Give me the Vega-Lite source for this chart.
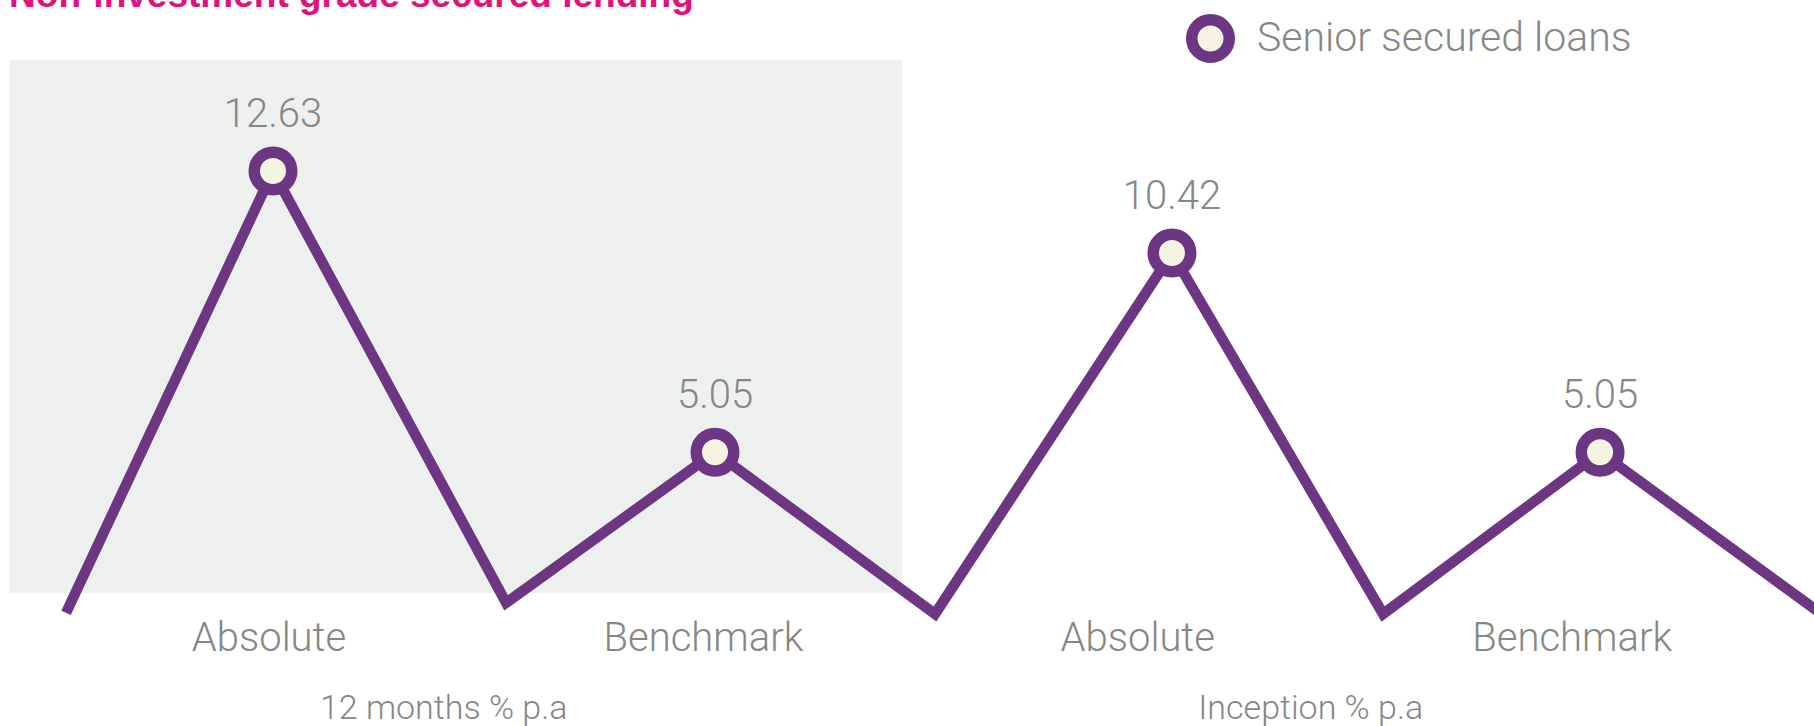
{
  "$schema": "https://vega.github.io/schema/vega-lite/v6.json",
  "width": 1814,
  "height": 533,
  "autosize": {"type": "none"},
  "padding": {"left": 0, "top": 60, "right": 0, "bottom": 133},
  "background": "#ffffff",
  "config": {"view": {"stroke": null}},
  "layer": [
    {
      "data": {"values": [
        {"group": "12 months % p.a", "start": -0.194, "end": 3.917, "top": 15.623, "bottom": 1.256}
      ]},
      "mark": {"type": "rect", "color": "#eef0ef"},
      "encoding": {
        "x": {
          "field": "start",
          "type": "quantitative",
          "scale": {"domain": [-0.236, 8.116], "nice": false, "zero": false},
          "axis": {
            "values": [1, 3, 5, 7],
            "labelExpr": "(datum.value == 1 || datum.value == 5) ? 'Absolute' : 'Benchmark'",
            "domain": false,
            "ticks": false,
            "grid": false,
            "title": null,
            "labelFont": "Roboto",
            "labelFontWeight": 300,
            "labelFontSize": 40,
            "labelColor": "#858786",
            "labelPadding": 57,
            "labelBaseline": "alphabetic",
            "labelFlush": false,
            "labelOverlap": false,
            "labelLimit": 0
          }
        },
        "x2": {"field": "end"},
        "y": {
          "field": "top",
          "type": "quantitative",
          "scale": {"domain": [1.256, 15.623], "nice": false, "zero": false},
          "axis": null
        },
        "y2": {"field": "bottom"}
      }
    },
    {
      "data": {"values": [
        {"heading": "Non-investment grade secured lending", "left": -0.194, "level": 17.05}
      ]},
      "mark": {"type": "text", "font": "Liberation Sans", "fontSize": 37, "fontWeight": "bold", "color": "#e0137e", "align": "left", "baseline": "alphabetic"},
      "encoding": {
        "x": {"field": "left", "type": "quantitative"},
        "y": {"field": "level", "type": "quantitative"},
        "text": {"field": "heading", "type": "nominal"}
      }
    },
    {
      "data": {"values": [
        {"group": "12 months % p.a", "center": 1.807, "level": -2.13},
        {"group": "Inception % p.a", "center": 5.799, "level": -2.13}
      ]},
      "mark": {"type": "text", "font": "Roboto", "fontWeight": 300, "fontSize": 34, "color": "#858786", "align": "center", "baseline": "alphabetic"},
      "encoding": {
        "x": {"field": "center", "type": "quantitative"},
        "y": {"field": "level", "type": "quantitative"},
        "text": {"field": "group", "type": "nominal"}
      }
    },
    {
      "data": {"values": [
        {"step": 0.068, "value": 0.72, "peak": false, "series": "Senior secured loans"},
        {"step": 1.021, "value": 12.63, "peak": true, "series": "Senior secured loans"},
        {"step": 2.094, "value": 0.99, "peak": false, "series": "Senior secured loans"},
        {"step": 3.056, "value": 5.05, "peak": true, "series": "Senior secured loans"},
        {"step": 4.069, "value": 0.69, "peak": false, "series": "Senior secured loans"},
        {"step": 5.16, "value": 10.42, "peak": true, "series": "Senior secured loans"},
        {"step": 6.132, "value": 0.69, "peak": false, "series": "Senior secured loans"},
        {"step": 7.131, "value": 5.05, "peak": true, "series": "Senior secured loans"},
        {"step": 8.15, "value": 0.69, "peak": false, "series": "Senior secured loans"}
      ]},
      "layer": [
        {
          "mark": {"type": "line", "color": "#6c3682", "strokeWidth": 10.5, "strokeJoin": "miter", "strokeCap": "butt"},
          "encoding": {
            "x": {"field": "step", "type": "quantitative"},
            "y": {"field": "value", "type": "quantitative"}
          }
        },
        {
          "transform": [{"filter": "datum.peak"}],
          "mark": {"type": "point", "shape": "circle", "filled": false, "fill": "#f5f3e2", "fillOpacity": 1, "opacity": 1, "size": 1406, "strokeWidth": 11.5},
          "encoding": {
            "x": {"field": "step", "type": "quantitative"},
            "y": {"field": "value", "type": "quantitative"},
            "stroke": {
              "field": "series",
              "type": "nominal",
              "scale": {"range": ["#6c3682"]},
              "legend": {
                "orient": "none",
                "legendX": 1186,
                "legendY": -46,
                "title": null,
                "padding": 0,
                "symbolType": "circle",
                "symbolSize": 1406,
                "symbolStrokeWidth": 11.5,
                "symbolFillColor": "#f5f3e2",
                "labelFont": "Roboto",
                "labelFontWeight": 300,
                "labelFontSize": 41,
                "labelColor": "#858786",
                "labelOffset": 22,
                "labelLimit": 0
              }
            }
          }
        },
        {
          "transform": [{"filter": "datum.peak"}],
          "mark": {"type": "text", "font": "Roboto", "fontWeight": 300, "fontSize": 40, "color": "#858786", "align": "center", "baseline": "alphabetic", "dy": -44},
          "encoding": {
            "x": {"field": "step", "type": "quantitative"},
            "y": {"field": "value", "type": "quantitative"},
            "text": {"field": "value", "type": "quantitative", "format": ".2f"}
          }
        }
      ]
    }
  ]
}
